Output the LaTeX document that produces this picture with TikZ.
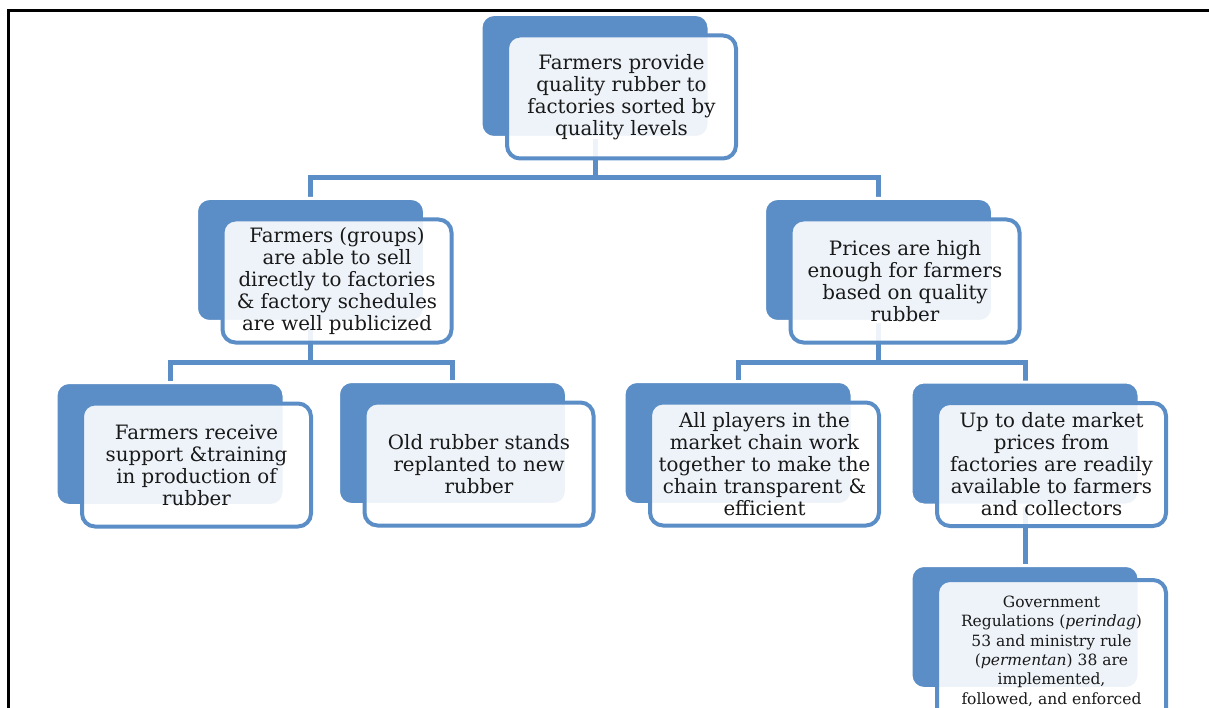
\documentclass[tikz,border=0pt]{standalone}
\usepackage{fontspec}
\setmainfont{DejaVu Serif}
\usetikzlibrary{backgrounds}
\definecolor{boxblue}{RGB}{91,142,198}
\definecolor{inktext}{RGB}{25,25,25}
\begin{document}
\begin{tikzpicture}[x=1pt,y=-1pt,
  back/.style={fill=boxblue,draw=white,line width=3pt,rounded corners=13pt,
    minimum width=228pt,minimum height=123pt,inner sep=0pt},
  front/.style={fill=white,fill opacity=0.9,text opacity=1,draw=boxblue,
    line width=4pt,rounded corners=13pt,minimum width=229pt,minimum height=123pt,
    inner sep=0pt,align=center,text=inktext,font=\fontsize{19.8}{22}\selectfont},
  link/.style={draw=boxblue,line width=5pt}]
% page 1209 x 708 px, y runs down
\useasboundingbox (0,0) rectangle (1209,708);
\def\dx{26.5}
\def\dy{21}

% --- frame (top and left only) ---
\draw[line width=3pt] (8,712) -- (8,11) -- (1212,11);

% --- boxes: dark back plate, light front plate with text ---
\foreach \nm/\bx/\by/\txt in {
  goal/595/76/{Farmers provide\\quality rubber to\\factories sorted by\\quality levels},
  sell/310.5/260/{Farmers (groups)\\are able to sell\\directly to factories\\\& factory schedules\\are well publicized},
  price/878.5/260/{Prices are high\\enough for farmers\\based on quality\\rubber},
  train/170/444/{Farmers receive\\support \&training\\in production of\\rubber},
  replant/452.5/443/{Old rubber stands\\replanted to new\\rubber},
  chain/738/443/{All players in the\\market chain work\\together to make the\\chain transparent \&\\efficient},
  market/1025/443.5/{Up to date market\\prices from\\factories are readily\\available to farmers\\and collectors}} {
  \node[back] (\nm B) at (\bx,\by) {};
  \node[front] (\nm) at ([shift={(\dx,\dy)}]\nm B) {\txt};
}

% regulation box, cut by the page edge
\node[back] (govB) at (1025,627) {};
\node[front,minimum height=142pt,font=\fontsize{15.5}{19.4}\selectfont]
  (gov) at ([shift={(\dx,\dy+3)}]govB)
  {Government\\Regulations (\textit{perindag})\\53 and ministry rule\\(\textit{permentan}) 38 are\\implemented,\\followed, and enforced};

% --- connectors, behind the plates ---
\coordinate (busA) at (0,178);
\coordinate (busB) at (0,362);
\begin{scope}[on background layer]
\draw[link] (goalB) -- (goalB |- busA) -| (sellB);
\draw[link] (goalB |- busA) -| (priceB);
\draw[link] (sellB) -- (sellB |- busB) -| (trainB);
\draw[link] (sellB |- busB) -| (replantB);
\draw[link] (priceB) -- (priceB |- busB) -| (chainB);
\draw[link] (priceB |- busB) -| (marketB);
\draw[link] (marketB) -- (govB);
\end{scope}
\end{tikzpicture}
\end{document}
